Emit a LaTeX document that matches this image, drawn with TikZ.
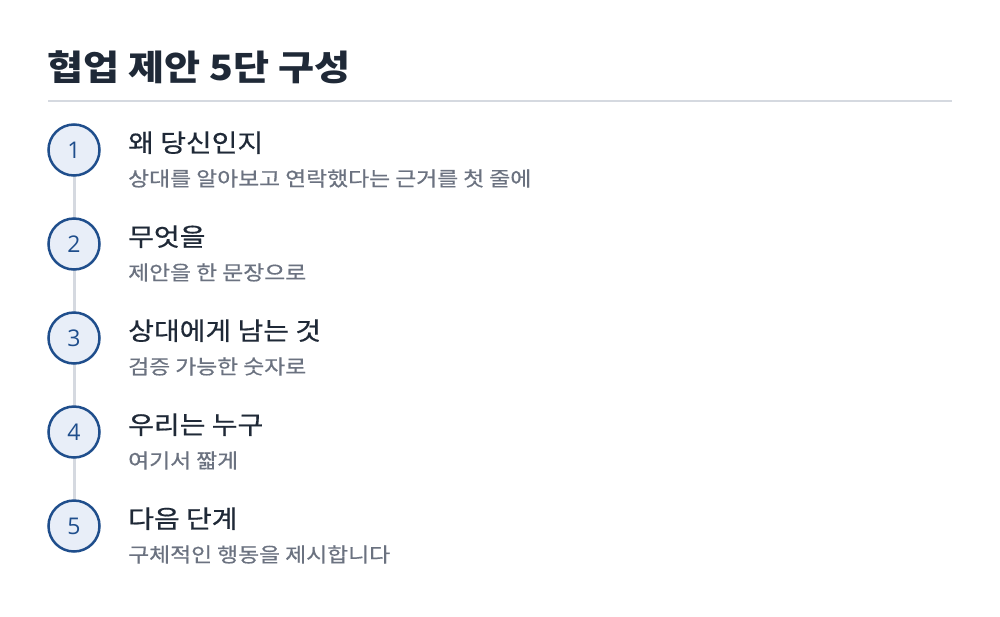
\documentclass[tikz,border=0pt]{standalone}
\usepackage{fontspec}
\setmainfont{Noto Sans CJK KR}[FakeStretch=1.12]
\newfontfamily\krhead{Noto Sans CJK KR}[FakeStretch=1.12, FakeBold=0.6]
\newfontfamily\krsub{Noto Sans CJK KR}[FakeStretch=1.14, FakeBold=0.6]
\newfontfamily\krnum{Open Sans}
\definecolor{titlecol}{HTML}{1F2937}
\definecolor{subcol}{HTML}{6B7280}
\definecolor{rulecol}{HTML}{D5D9E0}
\definecolor{circborder}{HTML}{1F4E8C}
\definecolor{circfill}{HTML}{E8EEF8}
\tikzset{
  stepcirc/.style={circle, draw=circborder, line width=2.5pt, fill=circfill, minimum size=51pt, inner sep=0pt, text=circborder, font=\krnum\fontsize{23}{26}\selectfont},
  headtxt/.style={anchor=base west, inner sep=0pt, text=titlecol, font=\krhead\fontsize{25}{28}\selectfont},
  subtxt/.style={anchor=base west, inner sep=0pt, text=subcol, font=\krsub\fontsize{20}{22}\selectfont},
  conn/.style={draw=rulecol, line width=3pt},
}
\begin{document}
\begin{tikzpicture}[x=1pt,y=-1pt]
\useasboundingbox[fill=white] (0,0) rectangle (1000,616);
\node[anchor=base west, inner sep=0pt, text=titlecol, font=\fontsize{35}{40}\selectfont\bfseries] (title) at (47,80) {협업 제안 5단 구성};
\draw[draw=rulecol, line width=2pt] (48,101) -- (952,101);
\foreach \i/\h/\s in {1/왜 당신인지/상대를 알아보고 연락했다는 근거를 첫 줄에,
                      2/무엇을/제안을 한 문장으로,
                      3/상대에게 남는 것/검증 가능한 숫자로,
                      4/우리는 누구/여기서 짧게,
                      5/다음 단계/구체적인 행동을 제시합니다}{
  \pgfmathsetmacro{\yy}{150+94*(\i-1)}
  \node[headtxt] (h\i) at (128,\yy+2) {\h};
  \node[subtxt] (s\i) at (128,\yy+36) {\s};
}
\foreach \i in {1,...,4}{
  \path (74,{150+94*(\i-1)}) coordinate (p\i) (74,{150+94*\i}) coordinate (q\i);
  \draw[conn] (p\i) -- (q\i);
}
\foreach \i in {1,...,5}{
  \node[stepcirc] (c\i) at (74,{150+94*(\i-1)}) {\i};
}
\end{tikzpicture}
\end{document}
